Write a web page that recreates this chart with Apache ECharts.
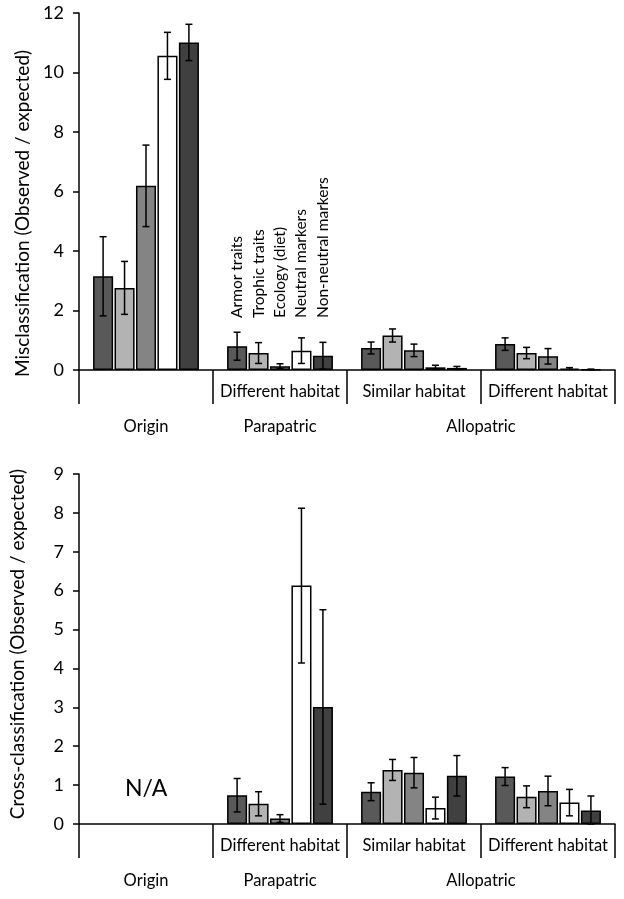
<!DOCTYPE html>
<html><head><meta charset="utf-8">
<script src="https://cdn.jsdelivr.net/npm/echarts@6/dist/echarts.min.js"></script>
<style>html,body{margin:0;padding:0;background:#fff}#c{width:624px;height:899px}</style>
</head><body><div id="c"></div>
<script>
// ---- data ----
const categories = ['Origin', 'Parapatric-Different', 'Allopatric-Similar', 'Allopatric-Different'];
const habitatLabels = ['', 'Different habitat', 'Similar habitat', 'Different habitat'];
const groupLabelPos = [0.5, 1.5, 3];
const groupLabelText = ['Origin', 'Parapatric', 'Allopatric'];
const seriesNames = ['Armor traits', 'Trophic traits', 'Ecology (diet)', 'Neutral markers', 'Non-neutral markers'];
const seriesColors = ['#595959', '#b3b3b3', '#848484', '#ffffff', '#404040'];

// Misclassification (top) : rows = series, cols = categories
const misValues = [
  [3.15, 0.80, 0.74, 0.87],
  [2.76, 0.57, 1.16, 0.57],
  [6.19, 0.13, 0.66, 0.46],
  [10.56, 0.65, 0.09, 0.05],
  [11.01, 0.48, 0.07, 0.02]
];
const misErrors = [
  [1.33, 0.47, 0.20, 0.21],
  [0.89, 0.35, 0.22, 0.19],
  [1.37, 0.08, 0.21, 0.26],
  [0.79, 0.43, 0.07, 0.03],
  [0.61, 0.45, 0.05, 0.01]
];
// Cross-classification (bottom)
const crossValues = [
  [null, 0.74, 0.83, 1.22],
  [null, 0.52, 1.39, 0.70],
  [null, 0.14, 1.32, 0.85],
  [null, 6.13, 0.41, 0.55],
  [null, 3.01, 1.24, 0.35]
];
const crossErrors = [
  [null, 0.43, 0.23, 0.23],
  [null, 0.31, 0.27, 0.28],
  [null, 0.10, 0.39, 0.38],
  [null, 1.99, 0.28, 0.34],
  [null, 2.50, 0.52, 0.37]
];
const topTicks = {min: 0, max: 12, interval: 2};
const bottomTicks = {min: 0, max: 9, interval: 1};
const labelAnchorValue = 1.75; // series-name labels above Parapatric bars (top chart)

// ---- layout helpers ----
const FONT = 'Lato';
const CAT_GAP = 0.21, BAR_GAP = 0.07, NB = seriesNames.length;
function barCenterOffset(band, i) {
  const avail = band * (1 - CAT_GAP);
  const bw = avail / (NB + (NB - 1) * BAR_GAP);
  const gap = bw * BAR_GAP;
  const total = NB * bw + (NB - 1) * gap;
  return {off: -total / 2 + i * (bw + gap) + bw / 2, bw: bw};
}

function errorData(values, errors) {
  const out = [];
  values.forEach((row, s) => row.forEach((v, c) => {
    if (v != null) out.push([c, s, v, errors[s][c]]);
  }));
  return out;
}
function renderError(params, api) {
  const c = api.value(0), s = api.value(1), v = api.value(2), e = api.value(3);
  const band = api.size([1, 0])[0];
  const o = barCenterOffset(band, s);
  const hi = api.coord([c, v + e]);
  const lo = api.coord([c, Math.max(v - e, 0)]);
  const x = hi[0] + o.off;
  const cap = 3.5;
  const st = {stroke: '#000', lineWidth: 1.5};
  return {type: 'group', children: [
    {type: 'line', shape: {x1: x, y1: hi[1], x2: x, y2: lo[1]}, style: st},
    {type: 'line', shape: {x1: x - cap, y1: hi[1], x2: x + cap, y2: hi[1]}, style: st},
    {type: 'line', shape: {x1: x - cap, y1: lo[1], x2: x + cap, y2: lo[1]}, style: st}
  ]};
}
function renderSeriesLabel(params, api) {
  const c = api.value(0), v = api.value(1), s = api.value(2);
  const band = api.size([1, 0])[0];
  const o = barCenterOffset(band, s);
  const p = api.coord([c, v]);
  return {type: 'text', x: p[0] + o.off, y: p[1], rotation: Math.PI / 2,
    style: {text: seriesNames[s], fill: '#000', font: '15.5px ' + FONT, align: 'left', verticalAlign: 'middle'}};
}

const grids = [
  {left: 79, right: 9, top: 13, height: 357},
  {left: 79, right: 9, top: 474, height: 350}
];
const xAxes = [], yAxes = [], series = [];
function buildAxes(g) {
  const base = xAxes.length;
  xAxes.push({
    type: 'category', gridIndex: g, data: categories, position: 'bottom',
    axisLine: {show: true, onZero: false, lineStyle: {color: '#000', width: 1.5}},
    axisTick: {show: true, length: 34, interval: 0, lineStyle: {color: '#000', width: 1.5}},
    axisLabel: {interval: 0, margin: 13, fontSize: 16.5, fontFamily: FONT, color: '#000',
      formatter: (v, i) => habitatLabels[i]}
  });
  xAxes.push({
    type: 'category', gridIndex: g, data: categories, position: 'bottom', offset: 34,
    axisLine: {show: false},
    axisTick: {show: true, length: 34, interval: (i) => i !== 3, lineStyle: {color: '#000', width: 1.5}},
    axisLabel: {show: false}
  });
  xAxes.push({
    type: 'value', gridIndex: g, min: 0, max: 4, interval: 0.5, position: 'bottom', offset: 34,
    axisLine: {show: false}, axisTick: {show: false}, splitLine: {show: false},
    axisLabel: {margin: 14, fontSize: 16.5, fontFamily: FONT, color: '#000', showMinLabel: true, showMaxLabel: true,
      formatter: (v) => { const k = groupLabelPos.indexOf(v); return k >= 0 ? groupLabelText[k] : ''; }}
  });
  return base;
}
function buildY(g, ticks, name, gap, pad) {
  yAxes.push({
    type: 'value', gridIndex: g, min: ticks.min, max: ticks.max, interval: ticks.interval,
    axisLine: {show: true, lineStyle: {color: '#000', width: 1.5}},
    axisTick: {show: true, length: 6, lineStyle: {color: '#000', width: 1.5}},
    axisLabel: {margin: 15, fontSize: 18, fontFamily: FONT, color: '#000'},
    splitLine: {show: false},
    name: name, nameLocation: 'middle', nameGap: gap, nameRotate: 90,
    nameTextStyle: {fontSize: 19, fontFamily: FONT, color: '#000', padding: pad}
  });
  return yAxes.length - 1;
}
function buildSeries(xi, yi, values, errors, withLabels) {
  values.forEach((row, s) => {
    series.push({
      type: 'bar', name: seriesNames[s], xAxisIndex: xi, yAxisIndex: yi, data: row,
      barCategoryGap: (CAT_GAP * 100) + '%', barGap: (BAR_GAP * 100) + '%',
      itemStyle: {color: seriesColors[s], borderColor: '#000', borderWidth: 1.5},
      emphasis: {disabled: true}, animation: false
    });
  });
  series.push({type: 'custom', xAxisIndex: xi, yAxisIndex: yi, renderItem: renderError,
    data: errorData(values, errors), encode: {x: 0, y: 2}, z: 5, animation: false, silent: true});
  if (withLabels) {
    series.push({type: 'custom', xAxisIndex: xi, yAxisIndex: yi, renderItem: renderSeriesLabel,
      data: seriesNames.map((n, s) => [1, labelAnchorValue, s]), encode: {x: 0, y: 1}, z: 6, animation: false, silent: true});
  }
}

const x0 = buildAxes(0);
const y0 = buildY(0, topTicks, 'Misclassification (Observed / expected)', 47, [0, 44, 0, 0]);
buildSeries(x0, y0, misValues, misErrors, true);
const x1 = buildAxes(1);
const y1 = buildY(1, bottomTicks, 'Cross-classification (Observed / expected)', 52, [0, 0, 0, 10]);
buildSeries(x1, y1, crossValues, crossErrors, false);

const chart = echarts.init(document.getElementById('c'), null, {renderer: 'canvas'});
chart.setOption({
  animation: false,
  backgroundColor: '#fff',
  textStyle: {fontFamily: FONT},
  grid: grids,
  xAxis: xAxes,
  yAxis: yAxes,
  series: series,
  graphic: [{type: 'text', left: 125, top: 777, style: {text: 'N/A', font: '23px ' + FONT, fill: '#000'}}]
});
</script></body></html>
